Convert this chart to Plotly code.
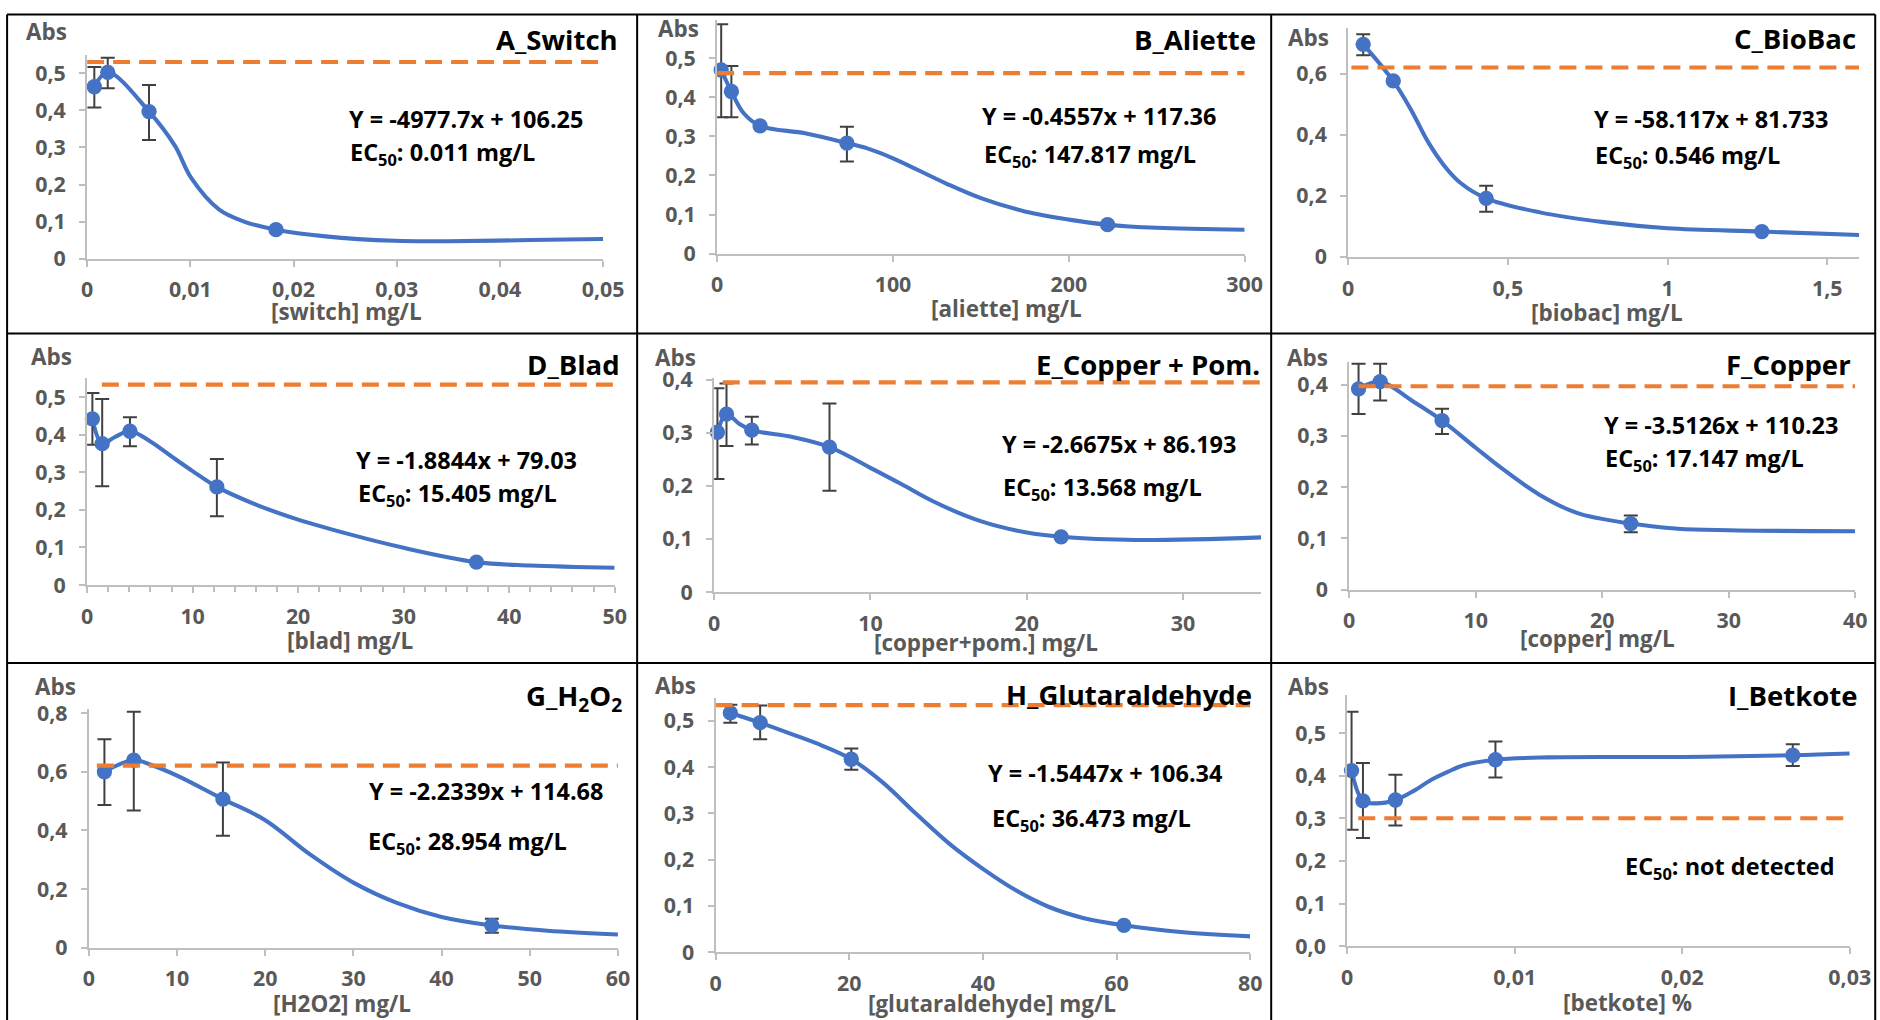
import plotly.graph_objects as go

W, H = 1880, 1020          # reference picture size the coordinates below refer to
MARGIN = 8                 # default body margin of the html page
# measured mapping between reference pixels and page pixels of the photographed page
SX, OX = 1.0145, 1.0
SY, OY = 1.0261, -4.3
FW, FH = 1898, 1034        # figure size in page pixels
K = 1.02                   # size compensation for fonts / marks
FONT = "Open Sans"
BLUE = "#4472C4"
ORANGE = "#ED7D31"
GREY = "#595959"
AXIS = "#BFBFBF"
ERR = "#404040"

# ---------------- data ----------------
A_x = [0.0007, 0.002, 0.006, 0.0183]
A_y = [0.464, 0.503, 0.397, 0.078]
A_lo = [0.408, 0.460, 0.320, None]
A_hi = [0.517, 0.542, 0.469, None]
A_cx = [0.0007, 0.002, 0.006, 0.0085, 0.0101, 0.0128, 0.0152, 0.0183, 0.0231, 0.0298, 0.035, 0.0429, 0.05]
A_cy = [0.464, 0.503, 0.397, 0.305, 0.217, 0.132, 0.100, 0.078, 0.060, 0.048, 0.047, 0.050, 0.053]
A_ref = 0.531

B_x = [2.3, 8.1, 24.4, 73.8, 222]
B_y = [0.470, 0.415, 0.327, 0.283, 0.074]
B_lo = [0.349, 0.349, None, 0.236, None]
B_hi = [0.587, 0.480, None, 0.325, None]
B_cx = [2.3, 8.1, 15, 24.4, 50, 73.8, 85, 100, 130, 150, 175, 200, 222, 250, 300]
B_cy = [0.470, 0.415, 0.360, 0.327, 0.308, 0.283, 0.270, 0.244, 0.180, 0.142, 0.108, 0.087, 0.074, 0.066, 0.061]
B_ref = 0.462

C_x = [0.047, 0.141, 0.432, 1.295]
C_y = [0.697, 0.577, 0.192, 0.083]
C_lo = [0.661, None, 0.148, None]
C_hi = [0.730, None, 0.233, None]
C_cx = [0.047, 0.141, 0.2, 0.25, 0.3, 0.35, 0.432, 0.6, 0.8, 1.0, 1.295, 1.6]
C_cy = [0.697, 0.577, 0.476, 0.377, 0.300, 0.244, 0.192, 0.146, 0.114, 0.094, 0.083, 0.072]
C_ref = 0.621

D_x = [0.5, 1.43, 4.06, 12.3, 36.9]
D_y = [0.442, 0.376, 0.409, 0.261, 0.061]
D_lo = [0.373, 0.263, 0.369, 0.183, None]
D_hi = [0.511, 0.495, 0.446, 0.335, None]
D_cx = [0.5, 1.43, 2.6, 4.06, 6, 8, 10, 12.3, 16, 20, 25, 30, 36.9, 42, 50]
D_cy = [0.442, 0.376, 0.393, 0.409, 0.382, 0.342, 0.303, 0.261, 0.214, 0.174, 0.134, 0.099, 0.061, 0.052, 0.046]
D_ref = 0.533

E_x = [0.21, 0.79, 2.41, 7.38, 22.2]
E_y = [0.301, 0.335, 0.305, 0.273, 0.104]
E_lo = [0.213, 0.275, 0.278, 0.191, None]
E_hi = [0.384, 0.393, 0.330, 0.355, None]
E_cx = [0.21, 0.79, 1.6, 2.41, 5, 7.38, 10, 12, 14, 17, 20, 22.2, 27, 35]
E_cy = [0.301, 0.335, 0.317, 0.305, 0.292, 0.273, 0.234, 0.203, 0.171, 0.134, 0.112, 0.104, 0.098, 0.103]
E_ref = 0.395

F_x = [0.74, 2.45, 7.34, 22.26]
F_y = [0.392, 0.406, 0.330, 0.129]
F_lo = [0.343, 0.369, 0.304, 0.112]
F_hi = [0.441, 0.441, 0.353, 0.145]
F_cx = [0.74, 2.45, 5, 7.34, 10, 12, 15, 18, 22.26, 26, 30, 40]
F_cy = [0.392, 0.406, 0.368, 0.330, 0.277, 0.238, 0.186, 0.150, 0.129, 0.119, 0.116, 0.114]
F_ref = 0.397

G_x = [1.76, 5.09, 15.2, 45.7]
G_y = [0.600, 0.640, 0.507, 0.076]
G_lo = [0.487, 0.468, 0.382, 0.051]
G_hi = [0.711, 0.805, 0.632, 0.099]
G_cx = [1.76, 5.09, 7, 10, 15.2, 20, 25, 30, 35, 40, 45.7, 52, 60]
G_cy = [0.600, 0.640, 0.624, 0.587, 0.507, 0.435, 0.320, 0.222, 0.152, 0.105, 0.076, 0.058, 0.045]
G_ref = 0.621

H_x = [2.2, 6.66, 20.3, 61.1]
H_y = [0.517, 0.496, 0.417, 0.058]
H_lo = [0.496, 0.460, 0.394, None]
H_hi = [0.535, 0.533, 0.440, None]
H_cx = [2.2, 6.66, 12, 16, 20.3, 25, 30, 35, 40, 45, 50, 55, 61.1, 70, 80]
H_cy = [0.517, 0.496, 0.468, 0.446, 0.417, 0.367, 0.299, 0.234, 0.180, 0.133, 0.097, 0.074, 0.058, 0.043, 0.034]
H_ref = 0.534

I_x = [0.00026, 0.00094, 0.00288, 0.00885, 0.0266]
I_y = [0.412, 0.341, 0.343, 0.4375, 0.448]
I_lo = [0.273, 0.254, 0.283, 0.396, 0.423]
I_hi = [0.550, 0.430, 0.402, 0.480, 0.474]
I_cx = [0.00026, 0.00094, 0.0017, 0.00288, 0.004, 0.005, 0.006, 0.007, 0.00885, 0.012, 0.02, 0.0266, 0.03]
I_cy = [0.412, 0.341, 0.335, 0.343, 0.365, 0.390, 0.409, 0.425, 0.4375, 0.443, 0.444, 0.448, 0.452]
I_ref = 0.300

titles = ["A_Switch", "B_Aliette", "C_BioBac", "D_Blad", "E_Copper + Pom.", "F_Copper",
          "G_H<sub>2</sub>O<sub>2</sub>", "H_Glutaraldehyde", "I_Betkote"]
x_titles = ["[switch] mg/L", "[aliette] mg/L", "[biobac] mg/L", "[blad] mg/L", "[copper+pom.] mg/L",
            "[copper] mg/L", "[H2O2] mg/L", "[glutaraldehyde] mg/L", "[betkote] %"]
equations = ["Y = -4977.7x + 106.25", "Y = -0.4557x + 117.36", "Y = -58.117x + 81.733",
             "Y = -1.8844x + 79.03", "Y = -2.6675x + 86.193", "Y = -3.5126x + 110.23",
             "Y = -2.2339x + 114.68", "Y = -1.5447x + 106.34", None]
ec50 = ["0.011 mg/L", "147.817 mg/L", "0.546 mg/L", "15.405 mg/L", "13.568 mg/L",
        "17.147 mg/L", "28.954 mg/L", "36.473 mg/L", "not detected"]
x_max = [0.05, 300, 1.6, 50, 35, 40, 60, 80, 0.03]
x_dtick = [0.01, 100, 0.5, 10, 10, 10, 10, 20, 0.01]
y_dtick = [0.1, 0.1, 0.2, 0.1, 0.1, 0.1, 0.2, 0.1, 0.1]
ref_start = [0, 0, 0.01, 1.4, 0.55, 0.74, 0.9, 0, 0.00066]

data = [
    (A_x, A_y, A_lo, A_hi, A_cx, A_cy, A_ref),
    (B_x, B_y, B_lo, B_hi, B_cx, B_cy, B_ref),
    (C_x, C_y, C_lo, C_hi, C_cx, C_cy, C_ref),
    (D_x, D_y, D_lo, D_hi, D_cx, D_cy, D_ref),
    (E_x, E_y, E_lo, E_hi, E_cx, E_cy, E_ref),
    (F_x, F_y, F_lo, F_hi, F_cx, F_cy, F_ref),
    (G_x, G_y, G_lo, G_hi, G_cx, G_cy, G_ref),
    (H_x, H_y, H_lo, H_hi, H_cx, H_cy, H_ref),
    (I_x, I_y, I_lo, I_hi, I_cx, I_cy, I_ref),
]

# ---------------- layout geometry (reference pixels) ----------------
# x-axis left px, x-axis right px, y=0 px, px per y unit, y max
geom = [
    (88, 604, 257, 371.0, 0.55),
    (718, 1245.5, 252, 391.3, 0.598),
    (1349, 1860, 255.3, 305.5, 0.75),
    (88, 615.5, 584, 376.7, 0.55),
    (715, 1262, 591, 531.7, 0.403),
    (1350, 1856, 588.7, 513.5, 0.445),
    (89.8, 618.8, 947.3, 293.75, 0.813),
    (716.5, 1251, 951.7, 463.4, 0.55),
    (1348, 1850.5, 945.7, 426.8, 0.59),
]
title_pos = [(621, 38), (1259, 38), (1859, 37), (623, 363), (1263, 363), (1854, 363),
             (625, 697), (1255, 694), (1860, 695)]
abs_pos = [(47, 30), (679, 27), (1309, 36), (52, 355), (676, 356), (1308, 356),
           (56, 686), (676, 685), (1309, 686)]
xt_pos = [(347, 310), (1007, 307), (1608, 311), (351, 640), (987, 642), (1598, 638),
          (343, 1003), (993, 1003), (1628, 1002)]
eq_pos = [(348, 117), (981, 114), (1593, 117), (355, 459), (1001, 443), (1603, 424),
          (368, 790), (987, 772), None]
ec_pos = [(349, 152), (983, 154), (1594, 155), (357, 493), (1002, 487), (1604, 458),
          (367, 842), (991, 819), (1624, 867)]


def px(x):
    return (SX * x + OX - MARGIN) / FW


def py(y):
    return 1 - (SY * y + OY - MARGIN) / FH


def fpx(x):
    return max(0.0005, min(0.9995, px(x)))


def fpy(y):
    return max(0.0005, min(0.9995, py(y)))


fig = go.Figure()
annotations = []

for i, (xs, ys, lo, hi, cx, cy, ref) in enumerate(data):
    n = i + 1
    xa = "x" if n == 1 else f"x{n}"
    ya = "y" if n == 1 else f"y{n}"
    plus = [None if h is None else round(h - v, 4) for v, h in zip(ys, hi)]
    minus = [None if l is None else round(v - l, 4) for v, l in zip(ys, lo)]

    fig.add_trace(go.Scatter(x=cx, y=cy, mode="lines", xaxis=xa, yaxis=ya,
                             line=dict(color=BLUE, width=4 * K, shape="spline", smoothing=1.0),
                             hoverinfo="skip", showlegend=False))
    fig.add_trace(go.Scatter(x=xs, y=ys, mode="markers", xaxis=xa, yaxis=ya,
                             marker=dict(color=BLUE, size=15 * K),
                             error_y=dict(type="data", symmetric=False, array=plus, arrayminus=minus,
                                          color=ERR, thickness=2, width=7),
                             showlegend=False, cliponaxis=False))
    fig.add_trace(go.Scatter(x=[ref_start[i], x_max[i]], y=[ref, ref], mode="lines",
                             xaxis=xa, yaxis=ya,
                             line=dict(color=ORANGE, width=4 * K, dash="17px,9px"),
                             hoverinfo="skip", showlegend=False))

    x0, x1, yb, ppu, ymax = geom[i]
    ytop = yb - ymax * ppu
    axkey = "xaxis" if n == 1 else f"xaxis{n}"
    aykey = "yaxis" if n == 1 else f"yaxis{n}"
    xaxis = dict(domain=[px(x0), px(x1)], range=[0, x_max[i]], anchor=ya,
                 tick0=0, dtick=x_dtick[i], showgrid=False, zeroline=False,
                 showline=True, linecolor=AXIS, linewidth=2,
                 ticks="outside", ticklen=6, tickwidth=1.5, tickcolor=AXIS,
                 ticklabelstandoff=5,
                 tickfont=dict(family=FONT, size=21 * K, color=GREY, weight="bold"),
                 fixedrange=True)
    if n == 4:
        xaxis["minor"] = dict(dtick=2, ticks="outside", ticklen=5, tickwidth=1.5, tickcolor=AXIS,
                              showgrid=False)
    yaxis = dict(domain=[py(yb), py(ytop)], range=[0, ymax], anchor=xa,
                 tick0=0, dtick=y_dtick[i], showgrid=False, zeroline=False,
                 showline=True, linecolor=AXIS, linewidth=2,
                 ticks="outside", ticklen=6, tickwidth=1.5, tickcolor=AXIS,
                 ticklabelstandoff=9,
                 tickfont=dict(family=FONT, size=21 * K, color=GREY, weight="bold"),
                 fixedrange=True)
    if n == 9:
        yaxis["tickformat"] = ".1f"
    fig.layout[axkey] = xaxis
    fig.layout[aykey] = yaxis

    def ann(text, pos, xanchor, size, color):
        return dict(text=text, x=px(pos[0]), y=py(pos[1]), xref="paper", yref="paper",
                    xanchor=xanchor, yanchor="middle", showarrow=False,
                    font=dict(family=FONT, size=size * K, color=color, weight="bold"))

    annotations.append(ann(titles[i], title_pos[i], "right", 27, "black"))
    annotations.append(ann("Abs", abs_pos[i], "center", 22, GREY))
    annotations.append(ann(x_titles[i], xt_pos[i], "center", 22, GREY))
    if equations[i] is not None:
        annotations.append(ann(equations[i], eq_pos[i], "left", 23, "black"))
    annotations.append(ann("EC<sub>50</sub>: " + ec50[i], ec_pos[i], "left", 23, "black"))

# panel borders (reference pixels, clipped to the figure)
shapes = []
for xv in [8, 638, 1272, 1876]:
    shapes.append(dict(type="line", xref="paper", yref="paper", x0=fpx(xv), x1=fpx(xv),
                       y0=fpy(7), y1=0, line=dict(color="black", width=2)))
for yv in [7, 332, 662]:
    shapes.append(dict(type="line", xref="paper", yref="paper", x0=fpx(8), x1=fpx(1876),
                       y0=fpy(yv), y1=fpy(yv), line=dict(color="black", width=2)))

fig.update_layout(width=FW, height=FH, margin=dict(l=0, r=0, t=0, b=0, pad=0),
                  paper_bgcolor="white", plot_bgcolor="white",
                  separators=",.", font=dict(family=FONT),
                  annotations=annotations, shapes=shapes, showlegend=False)

fig.write_html("out.html", config={"displayModeBar": False})
